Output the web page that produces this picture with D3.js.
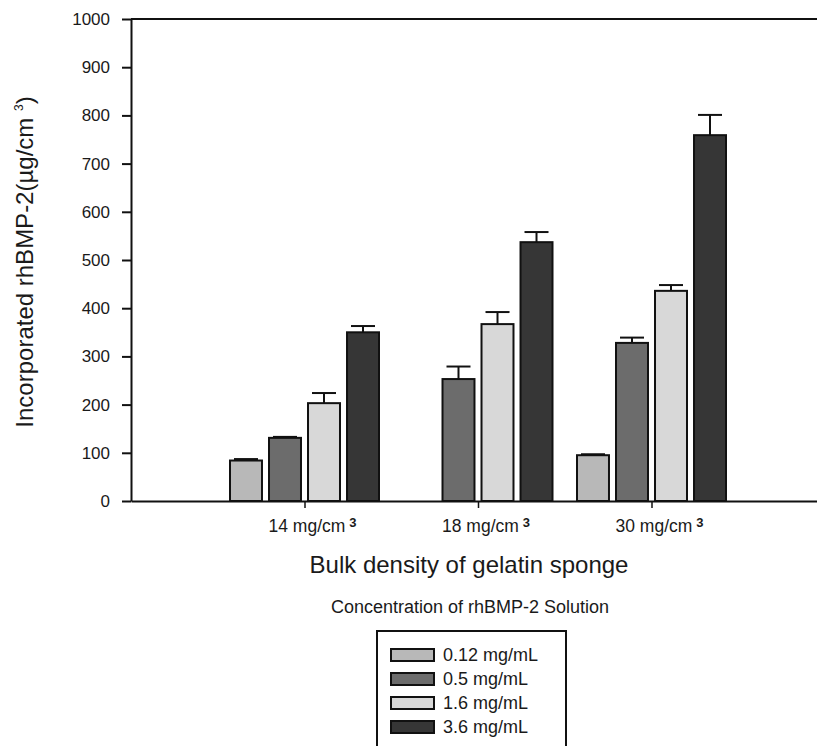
<!DOCTYPE html>
<html>
<head>
<meta charset="utf-8">
<script src="https://cdn.jsdelivr.net/npm/d3@7"></script>
<style>
  body { margin: 0; background: #fff; }
  text { font-family: "Liberation Sans", Arial, sans-serif; fill: #1a1a1a; }
</style>
</head>
<body>
<script>
// data
var densities = ["14", "18", "30"];
var concentrations = ["0.12 mg/mL", "0.5 mg/mL", "1.6 mg/mL", "3.6 mg/mL"];
var yTicks = [0, 100, 200, 300, 400, 500, 600, 700, 800, 900, 1000];

// mean incorporated rhBMP-2 per concentration, one value per density (null = no bar)
var mean012 = [84, null, 95];
var mean05 = [131, 253, 328];
var mean16 = [203, 367, 436];
var mean36 = [350, 537, 759];

// upper error (SD)
var err012 = [3, 0, 2];
var err05 = [2, 26, 11];
var err16 = [21, 25, 12];
var err36 = [13, 21, 42];

var fills = ["#b8b8b8", "#6c6c6c", "#d8d8d8", "#363636"];

function translate(x, y) {
	return "translate(" + x + "," + y + ")";
}

var width = 817,
	height = 746,
	plotLeft = 131,
	plotTop = 19,
	plotBottom = 501;

var svg = d3.select("body").append("svg")
	.attr("width", width)
	.attr("height", height);

var x = d3.scaleLinear().domain([0, 4]).range([plotLeft, 825]);
var y = d3.scaleLinear().domain([0, 1000]).range([plotBottom, plotTop]);
var inner = d3.scaleBand().domain(d3.range(concentrations.length))
	.range([-74.5, 74.5]).paddingInner(0.18);

var means = [mean012, mean05, mean16, mean36];
var errs = [err012, err05, err16, err36];

var bars = [];
means.forEach(function (m, s) {
	m.forEach(function (v, g) {
		if (v !== null) bars.push({ s: s, g: g, v: v, e: errs[s][g] });
	});
});

function barMid(d) {
	return x(d.g + 1) + inner(d.s) + inner.bandwidth() / 2;
}

// error bars first so the bar outline sits over the stem
var withErr = bars.filter(function (d) { return d.e > 0; });
var eb = svg.append("g").attr("stroke", "#111").attr("stroke-width", 2);
eb.selectAll("line.stem")
	.data(withErr)
	.enter().append("line")
	.attr("class", "stem")
	.attr("x1", barMid)
	.attr("x2", barMid)
	.attr("y1", function (d) { return y(d.v); })
	.attr("y2", function (d) { return y(d.v + d.e); });
eb.selectAll("line.cap")
	.data(withErr)
	.enter().append("line")
	.attr("class", "cap")
	.attr("x1", function (d) { return barMid(d) - 12; })
	.attr("x2", function (d) { return barMid(d) + 12; })
	.attr("y1", function (d) { return y(d.v + d.e); })
	.attr("y2", function (d) { return y(d.v + d.e); });

svg.append("g").selectAll("rect")
	.data(bars)
	.enter().append("rect")
	.attr("x", function (d) { return x(d.g + 1) + inner(d.s); })
	.attr("y", function (d) { return y(d.v); })
	.attr("width", inner.bandwidth())
	.attr("height", function (d) { return y(0) - y(d.v); })
	.attr("fill", function (d) { return fills[d.s]; })
	.attr("stroke", "#111")
	.attr("stroke-width", 2);

// top frame line
svg.append("line")
	.attr("x1", plotLeft).attr("x2", width)
	.attr("y1", plotTop).attr("y2", plotTop)
	.attr("stroke", "#111").attr("stroke-width", 2);

// y axis
var yAxis = svg.append("g")
	.attr("transform", translate(plotLeft, 0))
	.call(d3.axisLeft(y).tickValues(yTicks).tickFormat(d3.format("d"))
		.tickSize(9).tickSizeOuter(0).tickPadding(12));
yAxis.select(".domain").attr("stroke", "#111").attr("stroke-width", 2);
yAxis.selectAll(".tick line").attr("stroke", "#111").attr("stroke-width", 2);
yAxis.selectAll(".tick text")
	.attr("font-size", "17px")
	.attr("font-family", "Liberation Sans, Arial, sans-serif")
	.attr("fill", "#1a1a1a");

// x axis
var xAxis = svg.append("g")
	.attr("transform", translate(0, plotBottom))
	.call(d3.axisBottom(x).tickValues([1, 2, 3]).tickSize(7).tickSizeOuter(0).tickFormat(""));
xAxis.select(".domain").attr("stroke", "#111").attr("stroke-width", 2);
xAxis.selectAll(".tick line").attr("stroke", "#111").attr("stroke-width", 1.5);

var xl = svg.append("g").selectAll("text")
	.data(densities)
	.enter().append("text")
	.attr("x", function (d, i) { return x(i + 1) - 36; })
	.attr("y", 532)
	.attr("font-size", "17.5px");
xl.append("tspan").text(function (d) { return d + " mg/cm"; });
xl.append("tspan")
	.text("3")
	.attr("dx", 4)
	.attr("dy", -5)
	.attr("font-size", "13px")
	.attr("font-weight", "bold");

// axis titles
var yt = svg.append("text")
	.attr("transform", translate(33, 262) + " rotate(-90)")
	.attr("text-anchor", "middle")
	.attr("font-size", "24px");
yt.append("tspan").text("Incorporated rhBMP-2(\u00b5g/cm ");
yt.append("tspan").text("3").attr("font-size", "12px").attr("dy", -10);
yt.append("tspan").text(")").attr("dy", 10);

svg.append("text")
	.text("Bulk density of gelatin sponge")
	.attr("x", 469)
	.attr("y", 573)
	.attr("text-anchor", "middle")
	.attr("font-size", "24px");

svg.append("text")
	.text("Concentration of rhBMP-2 Solution")
	.attr("x", 470)
	.attr("y", 613)
	.attr("text-anchor", "middle")
	.attr("font-size", "18px");

// legend (box runs off the bottom of the figure)
var legend = svg.append("g");
legend.append("rect")
	.attr("x", 377).attr("y", 631)
	.attr("width", 189).attr("height", 140)
	.attr("fill", "none")
	.attr("stroke", "#111").attr("stroke-width", 2);

var item = legend.selectAll("g.item")
	.data(concentrations)
	.enter().append("g")
	.attr("class", "item")
	.attr("transform", function (d, i) { return translate(391, 649 + i * 24); });

item.append("rect")
	.attr("width", 43)
	.attr("height", 12)
	.attr("fill", function (d, i) { return fills[i]; })
	.attr("stroke", "#111")
	.attr("stroke-width", 2);

item.append("text")
	.text(function (d) { return d; })
	.attr("x", 52)
	.attr("y", 12)
	.attr("font-size", "18px");
</script>
</body>
</html>
